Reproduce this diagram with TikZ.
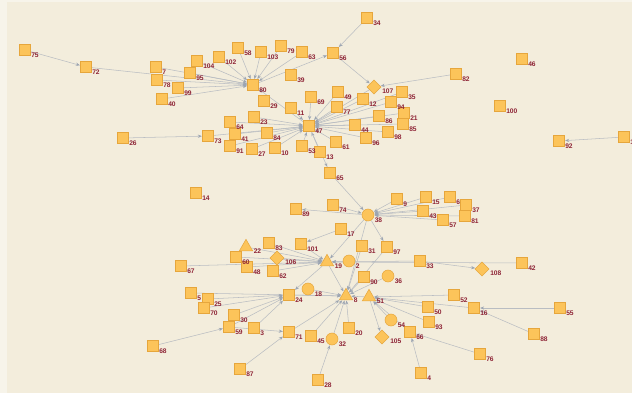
\documentclass[tikz,border=0pt]{standalone}
\usepackage{fontspec}
\setmainfont{Liberation Sans}
\usetikzlibrary{shapes.geometric,arrows.meta}
\pgfdeclarelayer{bg}
\pgfdeclarelayer{edges}
\pgfsetlayers{bg,edges,main}

\definecolor{pagecol}{HTML}{F7F4EA}
\definecolor{bgcol}{HTML}{F3EDDC}
\definecolor{nodefill}{HTML}{FCC45A}
\definecolor{nodeedge}{HTML}{E6A63C}
\definecolor{labcol}{HTML}{8E2436}
\definecolor{edgecol}{HTML}{B9BDC2}
\definecolor{tipcol}{HTML}{9CA5B2}

\tikzset{
  nbase/.style={draw=nodeedge, fill=nodefill, line width=0.4pt, inner sep=0pt},
  sq/.style={nbase, rectangle, minimum size=8.2pt},
  ci/.style={nbase, circle, minimum size=9pt},
  tri/.style={nbase, regular polygon, regular polygon sides=3, minimum size=11.5pt},
  dia/.style={nbase, diamond, minimum size=10.5pt},
  lab/.style={anchor=west, inner sep=0pt, text=labcol,
    font=\fontsize{5}{5}\selectfont\bfseries},
  link/.style={draw=edgecol, line width=0.4pt,
    -{Stealth[length=3pt,width=2.4pt,color=tipcol]}, shorten >=0.3pt}
}

\begin{document}
\begin{tikzpicture}[x=0.75pt,y=-0.75pt]
\useasboundingbox (0,0) rectangle (632,393);
\begin{pgfonlayer}{bg}
  \fill[pagecol] (0,0) rectangle (632,393);
  \fill[bgcol] (7,2) rectangle (632,393);
\end{pgfonlayer}

% square nodes
\foreach \n/\x/\y in {
  1/624/137, 3/254/328, 4/421/373, 5/191/293, 6/450/197, 7/156/67,
  9/397/199, 10/275/148, 11/291/108, 12/363/99, 13/320/152, 14/196/193,
  15/426/197, 16/474/308, 17/341/229, 20/349/328, 21/404/113, 23/254/117,
  24/289/295, 25/208/299, 26/123/138, 27/252/149, 28/318/380, 29/264/101,
  30/234/315, 31/362/246, 33/420/261, 34/367/18, 35/402/92, 37/466/205,
  39/291/75, 40/162/99, 41/235/134, 42/522/263, 43/423/211, 44/355/125,
  45/311/336, 46/522/59, 47/309/126, 48/247/267, 49/338/92, 50/428/307,
  52/454/295, 53/302/146, 55/560/308, 56/333/53, 57/443/220, 58/238/48,
  59/229/327, 60/236/257, 61/336/142, 62/273/271, 63/302/52, 64/230/122,
  65/330/173, 66/410/332, 67/181/266, 68/153/346, 69/311/97, 70/204/308,
  71/289/332, 72/86/67, 73/208/136, 74/333/205, 75/25/50, 76/480/354,
  77/337/107, 78/157/80, 79/281/46, 80/253/85, 81/465/216, 82/456/74,
  83/269/243, 84/267/133, 85/403/124, 86/379/116, 87/240/369, 88/534/334,
  89/296/209, 90/364/277, 91/230/146, 92/559/141, 93/429/322, 94/391/102,
  95/190/73, 96/366/138, 97/387/247, 98/388/132, 99/178/88, 100/500/106,
  101/301/244, 102/219/57, 103/261/52, 104/197/61}
{
  \node[style=sq] (n\n) at (\x,\y) {};
  \node[lab] (l\n) at (\x+6,\y+5) {\n};
}

% circular nodes
\foreach \n/\x/\y in {2/349/261, 18/308/289, 32/332/339, 36/388/276,
  38/368/215, 54/391/320}
{
  \node[style=ci] (n\n) at (\x,\y) {};
  \node[lab] (l\n) at (\x+6.5,\y+5) {\n};
}

% triangular nodes
\foreach \n/\x/\y in {8/346/296, 19/327/262, 22/246/247, 51/369/297}
{
  \node[style=tri] (n\n) at (\x,\y) {};
  \node[lab] (l\n) at (\x+7.5,\y+4) {\n};
}

% diamond nodes
\foreach \n/\x/\y in {105/382/337, 106/277/258, 107/374/87, 108/482/269}
{
  \node[style=dia] (n\n) at (\x,\y) {};
  \node[lab] (l\n) at (\x+8,\y+4.5) {\n};
}

% directed links
\begin{pgfonlayer}{edges}
\foreach \a/\b in {
  75/72, 72/80, 7/80, 78/80, 99/80, 40/80, 104/80, 95/80, 102/80, 58/80,
  103/80, 79/80, 63/80, 80/56, 34/56, 56/107, 82/107, 47/80,
  23/47, 64/47, 41/47, 84/47, 91/47, 27/47, 10/47, 53/47, 13/47, 73/47,
  11/47, 69/47, 49/47, 77/47, 12/47, 94/47, 35/47, 21/47, 86/47, 85/47,
  44/47, 98/47, 96/47, 61/47, 107/47, 26/73,
  47/65, 65/38, 74/38, 38/89, 9/38, 15/38, 6/38, 37/38, 43/38, 57/38, 81/38,
  38/19, 38/8, 38/97, 97/8, 31/8, 17/101,
  22/19, 83/19, 60/19, 106/19, 48/19, 62/19, 67/19, 101/19, 2/19, 33/19,
  42/19, 33/108, 19/24, 19/8,
  5/8, 25/24, 70/24, 30/24, 59/24, 3/24, 24/8, 18/8, 71/8, 45/8, 32/8,
  20/8, 90/8, 36/8, 51/8, 68/59, 59/71, 87/71, 28/32,
  52/51, 50/51, 16/51, 93/51, 54/51, 51/105, 66/51,
  55/16, 88/16, 76/66, 4/66, 1/92}
{
  \draw[link] (n\a) -- (n\b);
}
\end{pgfonlayer}
\end{tikzpicture}
\end{document}
